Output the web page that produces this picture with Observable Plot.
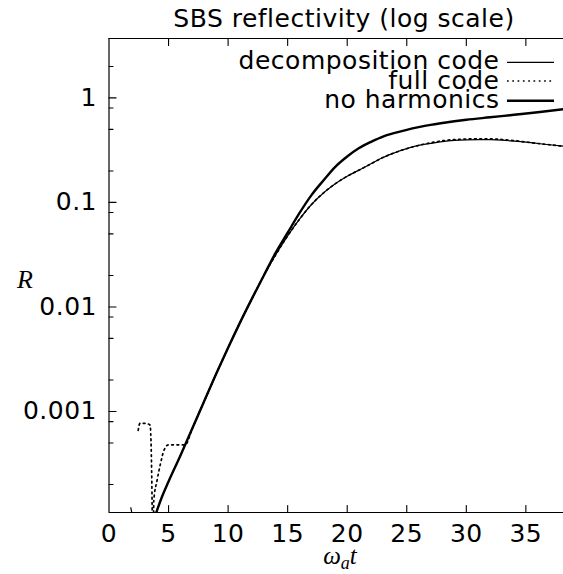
<!DOCTYPE html>
<html><head><meta charset="utf-8">
<script src="https://cdn.jsdelivr.net/npm/d3@7"></script>
<script src="https://cdn.jsdelivr.net/npm/@observablehq/plot@0.6"></script>
<style>html,body{margin:0;padding:0;background:#fff;}</style>
</head><body><div id="chart"></div>
<script>
const titleText = "SBS reflectivity (log scale)";
const seriesNames = ["decomposition code", "full code", "no harmonics"];
const xDomain = [0, 38.16];
const yDomain = [1.08e-4, 3.7];
const xTicks = [0, 5, 10, 15, 20, 25, 30, 35];
const xTicksMirror = [5, 10, 15, 20, 25, 30, 35];
const yTicks = [0.001, 0.01, 0.1, 1];
const yTickLabels = ["0.001", "0.01", "0.1", "1"];
const yMinorTicks = [2, 0.8, 0.5, 0.2, 0.08, 0.05, 0.02, 0.008, 0.005, 0.002, 0.0008, 0.0005, 0.0002];

// no harmonics (thick solid)
const noHarmX = [3.8, 4.5, 5, 6, 7, 8, 9, 10, 11, 12, 13, 14, 15, 16, 17, 18, 19, 20, 21, 22, 23, 24, 25, 26, 27, 28, 29, 30, 32, 34, 36, 38.2];
const noHarmR = [9.5e-5, 1.58e-4, 2.14e-4, 3.8e-4, 6.9e-4, 1.26e-3, 2.29e-3, 4.07e-3, 7.08e-3, 0.0120, 0.0200, 0.0331, 0.0513, 0.0794, 0.1175, 0.162, 0.219, 0.275, 0.331, 0.380, 0.427, 0.462, 0.495, 0.525, 0.552, 0.575, 0.597, 0.617, 0.652, 0.689, 0.728, 0.78];

// decomposition code (thin solid)
const decompEarlyX = [1.83, 1.97, 2.05];
const decompEarlyR = [1.2e-4, 1.0e-4, 8e-5];
const decompX = [3.8, 4.5, 5, 6, 7, 8, 9, 10, 11, 12, 13, 14, 15, 16, 17, 18, 19, 20, 21, 22, 23, 24, 25, 26, 27, 28, 29, 30, 31, 32, 33, 34, 35, 36, 37, 38.2];
const decompR = [9.5e-5, 1.58e-4, 2.14e-4, 3.8e-4, 6.9e-4, 1.26e-3, 2.29e-3, 4.07e-3, 7.08e-3, 0.0120, 0.0200, 0.0316, 0.0479, 0.0692, 0.0955, 0.123, 0.151, 0.178, 0.204, 0.234, 0.269, 0.299, 0.327, 0.351, 0.367, 0.382, 0.392, 0.397, 0.399, 0.398, 0.394, 0.386, 0.377, 0.366, 0.356, 0.344];

// full code (dotted)
const fullX = [2.45, 2.6, 3.05, 3.45, 3.6, 3.66, 3.72, 3.76, 4.04, 4.32, 4.6, 5.0, 6.0, 6.4, 7, 8, 9, 10, 11, 12, 13, 14, 15, 16, 17, 18, 19, 20, 21, 22, 23, 24, 25, 26, 27, 28, 29, 30, 31, 32, 33, 34, 35, 36, 37, 38.2];
const fullR = [6.6e-4, 7.7e-4, 7.7e-4, 7.4e-4, 2.0e-4, 6e-5, 6e-5, 1.4e-4, 2.2e-4, 3.15e-4, 4.2e-4, 4.8e-4, 4.8e-4, 4.8e-4, 6.9e-4, 1.26e-3, 2.29e-3, 4.07e-3, 7.08e-3, 0.0120, 0.0200, 0.0316, 0.0479, 0.0692, 0.0955, 0.123, 0.151, 0.178, 0.204, 0.234, 0.269, 0.299, 0.327, 0.351, 0.372, 0.389, 0.399, 0.404, 0.406, 0.405, 0.400, 0.390, 0.378, 0.366, 0.356, 0.344];

const toRows = (xs, rs) => xs.map((x, i) => ({x, R: rs[i]}));
const noHarm = toRows(noHarmX, noHarmR);
const decompEarly = toRows(decompEarlyX, decompEarlyR);
const decomp = toRows(decompX, decompR);
const full = toRows(fullX, fullR);

const W = 563, H = 574;
const mTop = 38, mBottom = 62, mLeft = 108.5, mRight = 0;
const FONT = "'DejaVu Sans', sans-serif";
const blank = () => "";
const tickShape = {draw(context, l) { context.moveTo(0, 0); context.lineTo(0, -l); }};
const tickOpts = {shape: tickShape, anchor: "start", stroke: "black", strokeWidth: 1.1};

const plot = Plot.plot({
  width: W, height: H,
  marginTop: mTop, marginBottom: mBottom, marginLeft: mLeft, marginRight: mRight,
  style: `font-family: ${FONT}; font-size: 25px; letter-spacing: 0.5px; background: white; overflow: visible; color: black;`,
  x: {type: "linear", domain: xDomain, label: null},
  y: {type: "log", domain: yDomain, label: null},
  marks: [
    Plot.line(decompEarly, {x: "x", y: "R", stroke: "black", strokeWidth: 1.2, clip: true}),
    Plot.line(decomp, {x: "x", y: "R", stroke: "black", strokeWidth: 1.2, curve: "monotone-x", clip: true}),
    Plot.line(full, {x: "x", y: "R", stroke: "black", strokeWidth: 1.7, strokeDasharray: "1.7,3.6", curve: "monotone-x", clip: true}),
    Plot.line(noHarm, {x: "x", y: "R", stroke: "black", strokeWidth: 2.4, curve: "monotone-x", clip: true}),
    Plot.ruleY([yDomain[1]], {stroke: "black", strokeWidth: 1.2}),
    Plot.ruleY([yDomain[0]], {stroke: "black", strokeWidth: 1.2}),
    Plot.ruleX([xDomain[0]], {stroke: "black", strokeWidth: 1.2}),
    Plot.vector(xTicksMirror, {x: d => d, frameAnchor: "bottom", length: 7, rotate: 0, ...tickOpts}),
    Plot.vector(xTicksMirror, {x: d => d, frameAnchor: "top", length: 7, rotate: 180, ...tickOpts}),
    Plot.vector(yTicks, {y: d => d, frameAnchor: "left", length: 7, rotate: 90, ...tickOpts}),
    Plot.vector(yMinorTicks, {y: d => d, frameAnchor: "left", length: 4, rotate: 90, ...tickOpts}),
    Plot.axisX(xTicks, {anchor: "bottom", tickSize: 0, tickPadding: 12, fontSize: 25, label: null}),
    Plot.axisY(yTicks, {anchor: "left", tickSize: 0, tickPadding: 12, fontSize: 25, tickFormat: d => yTickLabels[yTicks.indexOf(d)], label: null})
  ]
});

const svg = d3.select(plot);
// title
svg.append("text").attr("x", 344).attr("y", 27).attr("text-anchor", "middle")
  .style("font-family", FONT).style("font-size", "25px").style("letter-spacing", "0.5px")
  .attr("fill", "black").text(titleText);
// y label
svg.append("text").attr("x", 25).attr("y", 288).attr("text-anchor", "middle")
  .style("font-family", "'Liberation Serif', serif").style("font-style", "italic").style("font-size", "26px")
  .style("letter-spacing", "0").attr("fill", "black").text("R");
// x label
const xl = svg.append("text").attr("x", 340).attr("y", 564).attr("text-anchor", "middle")
  .style("font-family", "'Liberation Serif', serif").style("font-style", "italic").style("font-size", "25px")
  .style("letter-spacing", "0").attr("fill", "black");
xl.append("tspan").text("ω");
xl.append("tspan").attr("dy", 5).style("font-size", "18px").text("a");
xl.append("tspan").attr("dy", -5).text("t");

// legend
const legendRows = [
  {name: seriesNames[0], width: 1.2, dash: null, baseline: 69.3, ly: 62.3},
  {name: seriesNames[1], width: 1.7, dash: "1.7,3.6", baseline: 89.3, ly: 81},
  {name: seriesNames[2], width: 2.4, dash: null, baseline: 108.3, ly: 100.7}
];
const lg = svg.append("g");
legendRows.forEach(r => {
  lg.append("text").attr("x", 499.5).attr("y", r.baseline).attr("text-anchor", "end")
    .style("font-family", FONT).style("font-size", "25px").style("letter-spacing", "0.5px")
    .attr("fill", "black").text(r.name);
  const ln = lg.append("line").attr("x1", 507).attr("x2", 554).attr("y1", r.ly).attr("y2", r.ly)
    .attr("stroke", "black").attr("stroke-width", r.width);
  if (r.dash) ln.attr("stroke-dasharray", r.dash);
});

document.getElementById("chart").appendChild(plot);
</script>
</body></html>
